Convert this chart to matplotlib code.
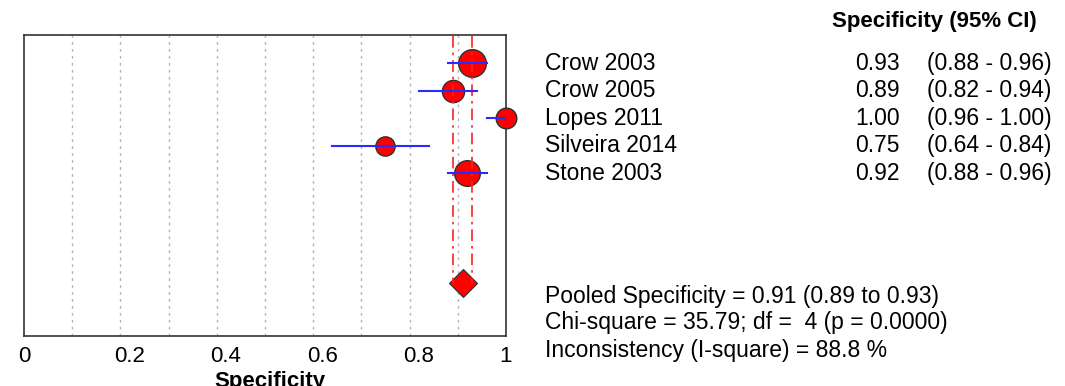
import matplotlib
matplotlib.use("Agg")
import matplotlib.pyplot as plt
import matplotlib.transforms as mtransforms
import numpy as np

studies = ["Crow 2003", "Crow 2005", "Lopes 2011", "Silveira 2014", "Stone 2003"]
spec = [0.93, 0.89, 1.00, 0.75, 0.92]
ci_low = [0.88, 0.82, 0.96, 0.64, 0.88]
ci_high = [0.96, 0.94, 1.00, 0.84, 0.96]
# relative study weights (marker area)
weights = [28.2, 18.2, 15.7, 13.7, 24.2]

pooled = 0.91
pooled_low = 0.89
pooled_high = 0.93
chi_square = 35.79
df = 4
p_value = 0.0000
i_square = 88.8

plt.rcParams["font.family"] = ["Liberation Sans", "DejaVu Sans"]

fig = plt.figure(figsize=(10.65, 3.86), dpi=100)
ax = fig.add_axes([0.0225, 0.1295, 0.4526, 0.7798])

rows = np.arange(1, len(studies) + 1)
pooled_row = 9

# grid
for g in np.arange(0.1, 1.0, 0.1):
    ax.axvline(g, color="#b4b4b4", lw=1, ls=(0, (2, 3)), zorder=0)

# pooled CI lines
for xv in (pooled_low, pooled_high):
    ax.plot([xv, xv], [0, pooled_row], color="#ff2020", lw=1.2,
            ls=(0, (7, 3, 1.5, 3)), zorder=4)

# study points
for i in range(len(studies)):
    ax.plot(spec[i], rows[i], "o", ms=3.75 * np.sqrt(weights[i]),
            mfc="#ff0000", mec="#303030", mew=1, zorder=3, clip_on=False)
    ax.plot([ci_low[i], ci_high[i]], [rows[i], rows[i]], color="#2a2aff",
            lw=1.5, zorder=5)

ax.plot(pooled, pooled_row, "D", ms=14, mfc="#ff0000", mec="#303030",
        mew=0.8, zorder=3)

ax.set_xlim(0, 1)
ax.set_ylim(10.93, -0.02)
ax.set_yticks([])
ax.set_xticks([0, 0.2, 0.4, 0.6, 0.8, 1])
ax.set_xticklabels(["0", "0.2", "0.4", "0.6", "0.8", "1"], fontsize=16)
ax.tick_params(axis="x", length=0, pad=7)
offset = mtransforms.ScaledTranslation(9 / 100, 0, fig.dpi_scale_trans)
for lab in ax.get_xticklabels()[1:5]:
    lab.set_transform(lab.get_transform() + offset)
ax.set_xlabel("Specificity", fontsize=16, fontweight="bold", labelpad=0)
ax.xaxis.set_label_coords(0.51, -0.115)
ax.xaxis.label.set_va("top")
for sp in ax.spines.values():
    sp.set_color("#333333")
    sp.set_linewidth(1.2)

# right side table
fs = 16.5
trans = mtransforms.blended_transform_factory(fig.transFigure, ax.transData)
fig.text(0.781, 0.945, "Specificity (95% CI)", fontsize=16,
         fontweight="bold", va="center")
for i in range(len(studies)):
    fig.text(0.5117, rows[i], studies[i], transform=trans, fontsize=fs,
             va="center")
    fig.text(0.845, rows[i], f"{spec[i]:.2f}", transform=trans,
             fontsize=fs, va="center", ha="right")
    fig.text(0.870, rows[i], f"({ci_low[i]:.2f} - {ci_high[i]:.2f})",
             transform=trans, fontsize=fs, va="center")

fig.text(0.5117, 1 - 296 / 386,
         f"Pooled Specificity = {pooled:.2f} ({pooled_low:.2f} to {pooled_high:.2f})",
         fontsize=fs, va="center")
fig.text(0.5117, 1 - 323 / 386,
         f"Chi-square = {chi_square:.2f}; df =  {df} (p = {p_value:.4f})",
         fontsize=fs, va="center")
fig.text(0.5117, 1 - 350 / 386,
         f"Inconsistency (I-square) = {i_square:.1f} %",
         fontsize=fs, va="center")

fig.savefig("out.png", dpi=100)
